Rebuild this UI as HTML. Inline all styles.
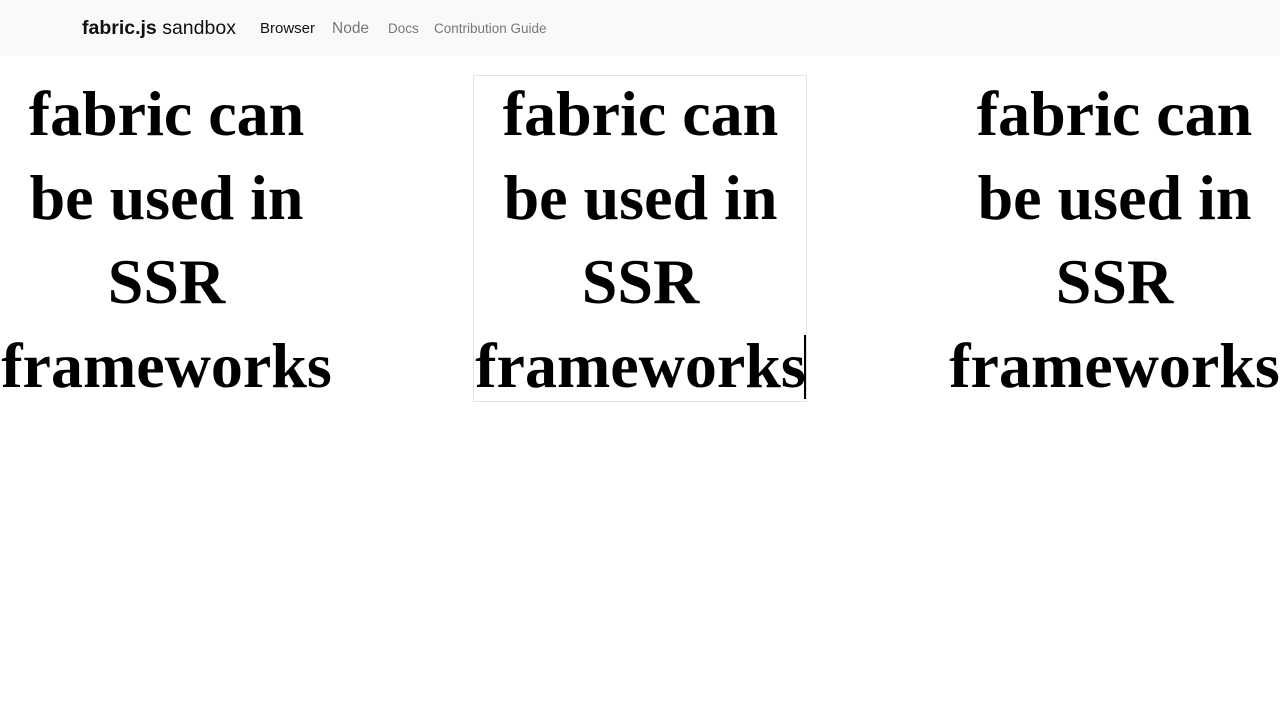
<!DOCTYPE html>
<html><head><style>
html,body{margin:0;padding:0;width:1280px;height:720px;background:#fff;overflow:hidden}
.nav{position:absolute;left:0;top:0;width:1280px;height:56px;background:#f8f9fa;font-family:"Liberation Sans",Arial,sans-serif}
.nav span{position:absolute;top:0;line-height:57px;white-space:nowrap}
.col{position:absolute;top:72px;width:333px;text-align:center;font-family:"Liberation Serif","Times New Roman",Times,serif;font-weight:bold;font-size:64px;line-height:84px;color:#000;white-space:nowrap}
.box{position:absolute;left:473px;top:75px;width:332px;height:325px;border:1px solid #dde3ee}
.cur{position:absolute;left:804px;top:335px;width:2px;height:64px;background:#000}
</style></head><body>
<div class="nav">
<span style="left:82px;font-size:19.5px;color:#111"><b>fabric.js</b> sandbox</span>
<span style="left:260px;font-size:15px;color:#111">Browser</span>
<span style="left:332px;font-size:15.5px;color:#777">Node</span>
<span style="left:388px;font-size:13.5px;color:#777">Docs</span>
<span style="left:434px;font-size:13.5px;color:#777">Contribution Guide</span>
</div>
<div class="box"></div>
<div class="col" style="left:0px">fabric can<br>be used in<br>SSR<br>frameworks</div>
<div class="col" style="left:474px">fabric can<br>be used in<br>SSR<br>frameworks</div>
<div class="col" style="left:948px">fabric can<br>be used in<br>SSR<br>frameworks</div>
<div class="cur"></div>
</body></html>
